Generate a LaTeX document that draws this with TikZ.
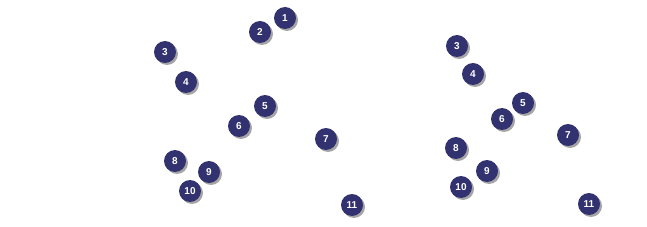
\documentclass[tikz,border=0pt]{standalone}
\usepackage{fontspec}
\setmainfont{Liberation Sans}
\definecolor{ball}{RGB}{50,50,112}
\definecolor{shade}{RGB}{165,165,165}
\begin{document}
\begin{tikzpicture}[x=1pt,y=-1pt,
  ballnode/.style={circle,fill=ball,minimum size=22pt,inner sep=0pt,
    text=white,font=\fontsize{10}{10}\selectfont\bfseries},
  ballshadow/.style={circle,fill=shade,minimum size=22pt,inner sep=0pt}]
\useasboundingbox (0,0) rectangle (647,227);
\foreach \n/\x/\y/\t in {a1/285/18/1,a2/260/32/2,a3/165/52/3,a4/186/82/4,a5/265/106/5,a6/239/126/6,a7/326/139/7,a8/175/161/8,a9/209/172/9,a10/190/191/10,a11/352/205/11,
  b3/457/46/3,b4/473/74/4,b5/523/103/5,b6/502/119/6,b7/568/135/7,b8/456/148/8,b9/487/171/9,b10/461/187/10,b11/589/204/11}{
  \node[ballshadow] (s\n) at (\x+2,\y+2) {};
  \node[ballnode] (\n) at (\x,\y) {\t};
}
\end{tikzpicture}
\end{document}
